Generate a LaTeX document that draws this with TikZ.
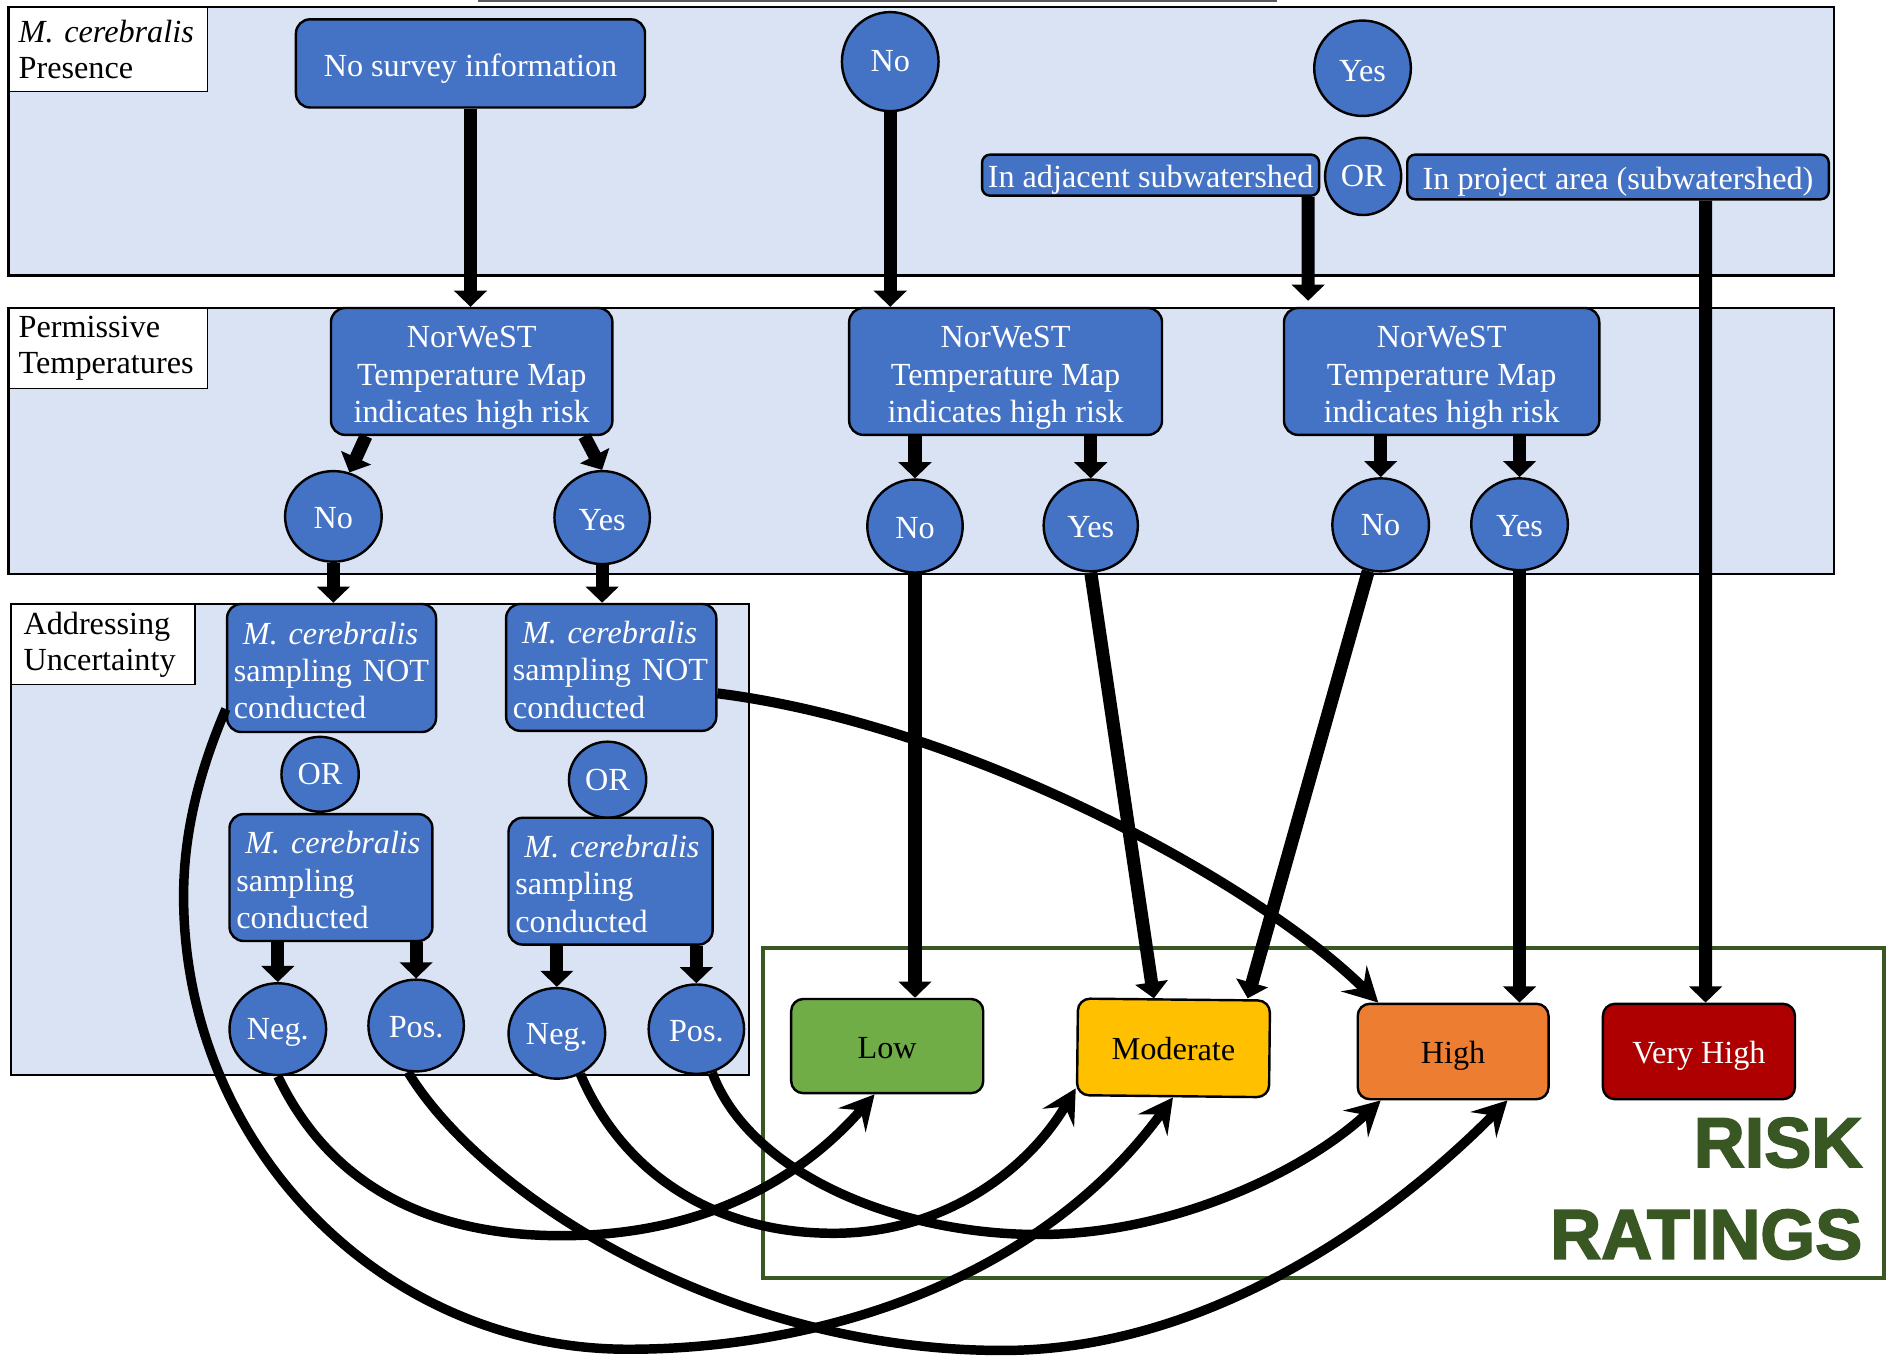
\documentclass[tikz,border=0pt]{standalone}
\usepackage{fontspec}
\setmainfont{Liberation Serif}
\newfontfamily\riskfont[FakeBold=2.5]{Liberation Sans Bold}
\usetikzlibrary{arrows.meta,shapes.geometric,calc}
\definecolor{bandfill}{HTML}{DAE3F3}
\definecolor{nodeblue}{HTML}{4472C4}
\definecolor{lowgreen}{HTML}{70AD47}
\definecolor{modyellow}{HTML}{FFC000}
\definecolor{highorange}{HTML}{ED7D31}
\definecolor{vhred}{HTML}{AE0000}
\definecolor{riskgreen}{HTML}{385723}
\newcommand\mystrut[1]{\rule{0pt}{#1}}
\begin{document}
\begin{tikzpicture}[x=0.6pt,y=-0.6pt,
  txt/.style={font=\fontsize{16}{18.6}\selectfont},
  sz/.style 2 args={minimum width=#1, minimum height=#2},
  bbox/.style={txt, draw=black, line width=1.2pt, fill=nodeblue, text=white, rounded corners=7pt, inner sep=2pt},
  boval/.style={txt, draw=black, line width=1.2pt, fill=nodeblue, text=white, ellipse, inner sep=0pt},
  lbl/.style={font=\fontsize{16}{18}\selectfont, draw=black, line width=0.6pt, fill=white, anchor=north west, align=left, inner ysep=0pt},
  band/.style={draw=black, line width=1.1pt, fill=bandfill},
  risk/.style={txt, draw=black, line width=1.2pt, rounded corners=6pt, inner sep=2pt},
  arr/.style={line width=6.5pt, -{Triangle[width=16pt,length=8pt]}},
  carr/.style={line width=4.7pt, -{Stealth[width=18pt,length=17pt,inset=6.5pt]}},
  risktxt/.style={anchor=east, inner sep=0pt, text=riskgreen, font=\riskfont\fontsize{35}{40}\selectfont},
]
\useasboundingbox (0,0) rectangle (1568,1124);

% background bands
\draw[band] (7,6) rectangle (1518,228);
\draw[band] (7,255) rectangle (1518,475);
\draw[band] (9,500) rectangle (620,890);
\draw[gray!70!black, line width=1pt] (396,1) -- (1057,1);
\draw[riskgreen, line width=2pt] (632,785) rectangle (1560,1058);

% section labels
\node[lbl, inner xsep=4.8pt, text width=88.8pt, minimum height=41.4pt] (labA) at (7,6) {\textit{M. cerebralis}\\Presence};
\node[lbl, inner xsep=4.8pt, text width=88.8pt, minimum height=39.6pt] (labB) at (7,255) {Permissive\\Temperatures};
\node[lbl, inner xsep=6pt, text width=79.2pt, minimum height=39.6pt] (labC) at (9,500) {Addressing\\Uncertainty};

% top band
\node[bbox, sz={173.4pt}{43.8pt}] (nosurvey) at (389.5,52.5) {\mystrut{16pt}No survey information};
\node[boval, sz={48pt}{49.2pt}] (notop) at (737,51) {No};
\node[boval, sz={48pt}{47.4pt}] (yestop) at (1128,56.5) {\mystrut{13.6pt}Yes};
\node[bbox, sz={167.4pt}{20.4pt}, rounded corners=4pt, inner ysep=0pt] (adj) at (952.5,145) {\mystrut{15.6pt}In adjacent subwatershed};
\node[boval, sz={37.8pt}{38.4pt}] (ortop) at (1128.5,146) {OR};
\node[bbox, sz={209.4pt}{22.2pt}, rounded corners=4pt, inner ysep=0pt] (proj) at (1339.5,146.5) {\mystrut{15.6pt}In project area (subwatershed)};

% temperature band
\node[bbox, sz={139.8pt}{63pt}, align=center] (n1) at (390.5,307.5) {\mystrut{17.2pt}NorWeST\\Temperature Map\\indicates high risk};
\node[bbox, sz={155.4pt}{63pt}, align=center] (n2) at (832.5,307.5) {\mystrut{17.2pt}NorWeST\\Temperature Map\\indicates high risk};
\node[bbox, sz={156.6pt}{63pt}, align=center] (n3) at (1193.5,307.5) {\mystrut{17.2pt}NorWeST\\Temperature Map\\indicates high risk};
\node[boval, sz={48pt}{45pt}] (no1) at (276,427.5) {\mystrut{12.2pt}No};
\node[boval, sz={47.4pt}{46.2pt}] (yes1) at (498.5,428.5) {\mystrut{12.6pt}Yes};
\node[boval, sz={47.4pt}{46.2pt}] (no2) at (757.5,435.5) {\mystrut{12.2pt}No};
\node[boval, sz={46.8pt}{45.6pt}] (yes2) at (903,435) {\mystrut{12.6pt}Yes};
\node[boval, sz={48pt}{46.2pt}] (no3) at (1143,434.5) {No};
\node[boval, sz={48pt}{45.6pt}] (yes3) at (1258,434) {\mystrut{12.6pt}Yes};

% uncertainty band
\node[bbox, sz={103.8pt}{63.6pt}, align=left, text width=97pt, inner xsep=3.4pt] (mnot1) at (274.5,553) {\mystrut{13.6pt}\hspace*{4.5pt}\textit{M. cerebralis}\\sampling NOT\\conducted};
\node[boval, sz={38.4pt}{37.2pt}] (or1) at (265,641) {OR};
\node[bbox, sz={100.8pt}{63pt}, align=left, text width=94pt, inner xsep=3.4pt] (msamp1) at (274,726.5) {\mystrut{13.6pt}\hspace*{4.5pt}\textit{M. cerebralis}\\sampling\\conducted};
\node[boval, sz={48pt}{45.6pt}] (neg1) at (230,852) {\mystrut{14.2pt}Neg.};
\node[boval, sz={47.4pt}{45.6pt}] (pos1) at (344.5,849) {\mystrut{12.2pt}Pos.};
\node[bbox, sz={104.4pt}{63pt}, align=left, text width=97.6pt, inner xsep=3.4pt] (mnot2) at (506,552.5) {\mystrut{13.6pt}\hspace*{4.5pt}\textit{M. cerebralis}\\sampling NOT\\conducted};
\node[boval, sz={38.4pt}{37.8pt}] (or2) at (503,645.5) {OR};
\node[bbox, sz={101.4pt}{63pt}, align=left, text width=94.6pt, inner xsep=3.4pt] (msamp2) at (505.5,729.5) {\mystrut{13.6pt}\hspace*{4.5pt}\textit{M. cerebralis}\\sampling\\conducted};
\node[boval, sz={48pt}{45pt}] (neg2) at (461,855.5) {\mystrut{14.2pt}Neg.};
\node[boval, sz={47.4pt}{44.4pt}] (pos2) at (576.5,852) {\mystrut{12.2pt}Pos.};

% risk ratings
\node[risk, fill=lowgreen, sz={95.4pt}{46.8pt}] (low) at (734.5,866) {\mystrut{12.2pt}Low};
\node[risk, fill=modyellow, sz={95.4pt}{48pt}, rotate=-0.6] (mod) at (971.5,867.5) {\mystrut{12.2pt}Moderate};
\node[risk, fill=highorange, sz={94.8pt}{47.4pt}] (high) at (1203,870.5) {\mystrut{15pt}High};
\node[risk, fill=vhred, text=white, sz={95.4pt}{47.4pt}] (vhigh) at (1406.5,870.5) {\mystrut{15pt}Very High};
\node[risktxt] (risk1) at (1542,946) {RISK};
\node[risktxt] (risk2) at (1542,1022) {RATINGS};

% straight connectors
\draw[arr] (nosurvey.south) -- (nosurvey.south |- n1.north);
\draw[arr] (notop.south) -- (notop.south |- n2.north);
\draw[arr] ([xshift=78.3pt]adj.south) -- ([xshift=-66.3pt,yshift=3pt]n3.north);
\draw[arr] ([xshift=43.5pt]proj.south) -- ([xshift=3.3pt]vhigh.north);
\draw[arr] ([xshift=-52.5pt]n1.south) -- (no1.70);
\draw[arr] ([xshift=56pt]n1.south) -- (yes1.north);
\draw[arr] (n2.south -| no2.north) -- (no2.north);
\draw[arr] (n2.south -| yes2.north) -- (yes2.north);
\draw[arr] (n3.south -| no3.north) -- (no3.north);
\draw[arr] (n3.south -| yes3.north) -- (yes3.north);
\draw[arr] (no1.south) -- (no1.south |- mnot1.north);
\draw[arr] (yes1.south) -- (yes1.south |- mnot2.north);
\draw[arr] (msamp1.south -| neg1.north) -- (neg1.north);
\draw[arr] (msamp1.south -| pos1.north) -- (pos1.north);
\draw[arr] (msamp2.south -| neg2.north) -- (neg2.north);
\draw[arr] (msamp2.south -| pos2.north) -- (pos2.north);
\draw[arr] (no2.south) -- (no2.south |- low.north);
\draw[arr] (yes2.south) -- ([xshift=-10pt]mod.north);
\draw[arr] (no3.-105) -- ([xshift=36.6pt]mod.north);
\draw[arr] (yes3.south) -- (yes3.south |- high.north);

% curved connectors
\draw[carr, line width=5pt] ([yshift=-12.9pt]mnot2.east) .. controls (800,600) and (1040,730) .. ([xshift=10.8pt]high.north west);
\draw[carr] ([yshift=-20.4pt]mnot1.west) .. controls (160,650) and (152,700) .. (152,742)
   .. controls (152,949) and (317,1117) .. (520,1117)
   .. controls (680,1117) and (860,1060) .. (mod.south);
\draw[carr] (pos1.-100) .. controls (400,990) and (600,1118) .. (830,1118)
   .. controls (1000,1118) and (1150,1010) .. ([xshift=27pt]high.south);
\draw[carr] (neg1.south) .. controls (275,985) and (360,1023) .. (465,1023)
   .. controls (570,1023) and (655,985) .. ([xshift=-6.3pt]low.south);
\draw[carr] (neg2.-60) .. controls (515,970) and (590,1021) .. (690,1021)
   .. controls (780,1021) and (850,970) .. ([yshift=4pt]mod.south west);
\draw[carr] (pos2.-70) .. controls (620,970) and (740,1022) .. (860,1022)
   .. controls (970,1022) and (1080,970) .. ([xshift=12pt]high.south west);
\end{tikzpicture}
\end{document}
